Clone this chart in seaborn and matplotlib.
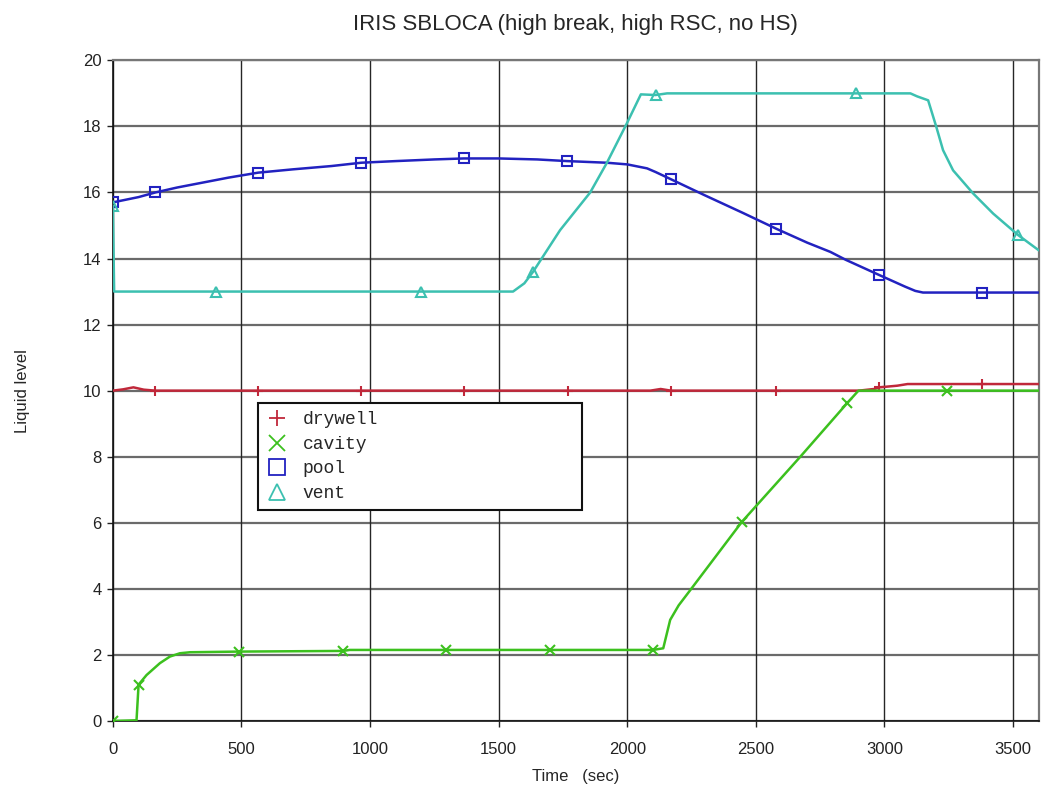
import numpy as np
import matplotlib
matplotlib.use("Agg")
import matplotlib.pyplot as plt
from matplotlib.lines import Line2D
import seaborn as sns

# ---- series data: time (sec) and liquid level ----
drywell_t = [0, 40, 80, 120, 165, 565, 965, 1365, 1770, 2090, 2130, 2170, 2580,
             2900, 2960, 2980, 3050, 3090, 3380, 3600]
drywell_v = [10.0, 10.04, 10.1, 10.03, 10.0, 10.0, 10.0, 10.0, 10.0, 10.0, 10.05, 10.0, 10.0,
             10.0, 10.05, 10.1, 10.15, 10.2, 10.2, 10.2]
drywell_marks = [165, 565, 965, 1365, 1770, 2170, 2580, 2980, 3380]

cavity_t = [0, 92, 100, 131, 183, 222, 261, 300, 490, 895, 921, 1295, 1700, 2100,
            2140, 2167, 2200, 2245, 2446, 2673, 2855, 2899, 3245, 3600]
cavity_v = [0.0, 0.02, 1.1, 1.39, 1.75, 1.95, 2.05, 2.08, 2.1, 2.12, 2.15, 2.15, 2.15, 2.15,
            2.2, 3.06, 3.5, 3.96, 6.03, 8.0, 9.62, 10.0, 10.0, 10.0]
cavity_marks = [0, 100, 490, 895, 1295, 1700, 2100, 2446, 2855, 3245]

pool_t = [0, 50, 100, 165, 250, 350, 450, 565, 700, 850, 965, 1100, 1250, 1365, 1500,
          1650, 1766, 1921, 2000, 2077, 2110, 2170, 2300, 2450, 2580, 2700, 2790, 2850,
          2980, 3080, 3120, 3150, 3250, 3380, 3500, 3600]
pool_v = [15.7, 15.78, 15.86, 16.0, 16.15, 16.3, 16.45, 16.6, 16.7, 16.8, 16.9, 16.95, 17.0,
          17.03, 17.03, 17.0, 16.95, 16.9, 16.85, 16.73, 16.62, 16.4, 15.92, 15.38, 14.9,
          14.48, 14.2, 13.96, 13.5, 13.15, 13.02, 12.97, 12.97, 12.97, 12.97, 12.97]
pool_marks = [0, 165, 565, 965, 1365, 1766, 2170, 2580, 2980, 3380]

vent_t = [0, 5, 400, 1200, 1556, 1600, 1634, 1739, 1856, 1921, 1999, 2053, 2110, 2155,
          2890, 3101, 3127, 3170, 3202, 3228, 3267, 3345, 3423, 3520, 3600]
vent_v = [15.6, 13.0, 13.0, 13.0, 13.0, 13.25, 13.6, 14.86, 16.0, 16.9, 18.1, 18.97, 18.95,
          19.0, 19.0, 19.0, 18.91, 18.79, 17.98, 17.28, 16.67, 15.97, 15.36, 14.71, 14.25]
vent_marks = [0, 400, 1200, 1634, 2110, 2890, 3520]

series = [
    ("drywell", drywell_t, drywell_v, drywell_marks, "#c0283a", "+"),
    ("cavity", cavity_t, cavity_v, cavity_marks, "#3cc01e", "x"),
    ("pool", pool_t, pool_v, pool_marks, "#2222c0", "s"),
    ("vent", vent_t, vent_v, vent_marks, "#3cc0b0", "^"),
]

x_ticks = [0, 500, 1000, 1500, 2000, 2500, 3000, 3500]
y_ticks = [0, 2, 4, 6, 8, 10, 12, 14, 16, 18, 20]

sns.set_style("white")
plt.rcParams["font.family"] = ["Liberation Sans Narrow", "Liberation Sans", "DejaVu Sans"]

fig = plt.figure(figsize=(10.45, 7.94), dpi=100)
ax = fig.add_axes([0.108, 0.092, 0.886, 0.832])

# grid
for yv in y_ticks:
    ax.axhline(yv, color="#6a6a6a", lw=1.6, zorder=0)
for xv in x_ticks:
    ax.axvline(xv, color="#262626", lw=1.0, zorder=0)

handles = []
for name, t, v, marks, color, mk in series:
    t = np.asarray(t)
    idx = list(np.nonzero(np.isin(t, marks))[0])
    filled = mk in ("+", "x")
    sns.lineplot(x=t, y=np.asarray(v), ax=ax, estimator=None, sort=False,
                 color=color, lw=1.8, marker=mk, markevery=idx, markersize=7,
                 markerfacecolor=color if filled else "none",
                 markeredgecolor=color, markeredgewidth=1.5, zorder=3)
    handles.append(Line2D([], [], linestyle="none", marker=mk, markersize=11,
                          markerfacecolor="none", markeredgecolor=color,
                          markeredgewidth=1.3, label=name))

ax.set_xlim(0, 3600)
ax.set_ylim(0, 20)
ax.set_xticks(x_ticks)
ax.set_yticks(y_ticks)
ax.tick_params(axis="both", labelsize=12, length=4, width=1, direction="out",
               colors="#222222", pad=4, bottom=True, left=True)
ax.tick_params(axis="x", pad=11)

for side in ("left", "bottom"):
    ax.spines[side].set_color("#111111")
    ax.spines[side].set_linewidth(1.2)
for side in ("top", "right"):
    ax.spines[side].set_color("#777777")
    ax.spines[side].set_linewidth(1.6)

ax.set_xlabel("Time   (sec)", fontsize=12, labelpad=9)
ax.set_ylabel("Liquid level", fontsize=12, labelpad=38)
ax.set_title("IRIS SBLOCA (high break, high RSC, no HS)", fontsize=16, pad=22)

leg = ax.legend(handles=handles, loc="upper left",
                bbox_to_anchor=(0.157, 0.305, 0.35, 0.176), mode="expand",
                prop={"family": "Liberation Mono", "size": 13},
                frameon=True, fancybox=False, borderpad=0.45, labelspacing=0.42,
                handletextpad=0.8, handlelength=1.2, borderaxespad=0)
leg.get_frame().set_edgecolor("#111111")
leg.get_frame().set_linewidth(1.5)
leg.get_frame().set_facecolor("white")
leg.get_frame().set_alpha(1)

fig.savefig("out.png", dpi=100)
